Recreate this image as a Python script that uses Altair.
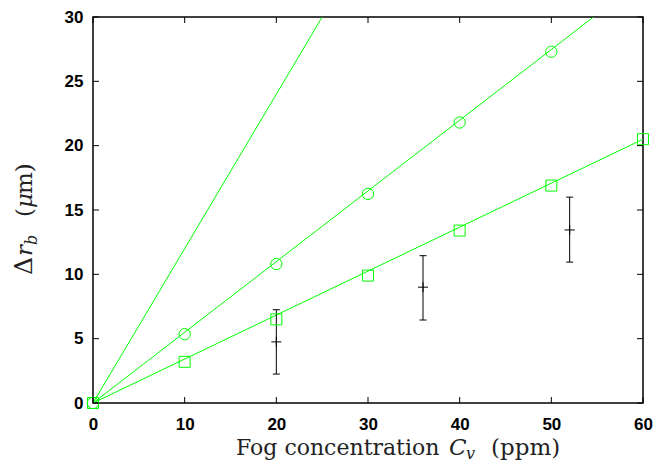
import altair as alt
import pandas as pd

# ---- data ----
x_ticks = [0, 10, 20, 30, 40, 50, 60]
y_ticks = [0, 5, 10, 15, 20, 25, 30]

circle_x = [0, 10, 20, 30, 40, 50]
circle_y = [0, 5.35, 10.8, 16.25, 21.8, 27.3]

square_x = [0, 10, 20, 30, 40, 50, 60]
square_y = [0, 3.2, 6.5, 9.9, 13.4, 16.9, 20.5]

steep_line_x = [0, 25]
steep_line_y = [0, 30]
circle_line_x = [0, 54.6]
circle_line_y = [0, 30]
square_line_x = [0, 60]
square_line_y = [0, 20.5]

err_x = [20, 36, 52]
err_y = [4.75, 9.0, 13.45]
err_lo = [2.25, 6.45, 10.95]
err_hi = [7.25, 11.45, 16.0]

# ---- styling ----
PAD_L, PAD_T, PAD_R, PAD_B = 85, 9, 10, 59
W, H = 550, 386
OX, OY = 8 + PAD_L, 8 + PAD_T   # page position of the plot origin
GREEN = "#00ff00"
TICK = 6
SERIF = "DejaVu Serif"
TCOL = "#222222"
TSIZE = 22

xs = alt.Scale(domain=[0, 60], nice=False, zero=False)
ys = alt.Scale(domain=[0, 30], nice=False, zero=False)

x_axis = alt.Axis(values=x_ticks, title=None, grid=False, domain=False, tickSize=0,
                  labelFont="Liberation Sans", labelFontWeight="bold", labelFontSize=17,
                  labelColor="black", labelPadding=13, labelFlush=False, labelOverlap=False)
y_axis = alt.Axis(values=y_ticks, title=None, grid=False, domain=False, tickSize=0,
                  labelFont="Liberation Sans", labelFontWeight="bold", labelFontSize=17,
                  labelColor="black", labelPadding=10, labelFlush=False, labelOverlap=False)

lines_df = pd.DataFrame({
    "x": steep_line_x + circle_line_x + square_line_x,
    "y": steep_line_y + circle_line_y + square_line_y,
    "s": ["steep"] * len(steep_line_x) + ["circ"] * len(circle_line_x) + ["sq"] * len(square_line_x),
})
circ_df = pd.DataFrame({"x": circle_x, "y": circle_y})
sq_df = pd.DataFrame({"x": square_x, "y": square_y})
err_df = pd.DataFrame({"x": err_x, "y": err_y, "lo": err_lo, "hi": err_hi})
xt_df = pd.DataFrame({"t": x_ticks})
yt_df = pd.DataFrame({"t": y_ticks})
one = pd.DataFrame({"a": [0]})

lines = alt.Chart(lines_df).mark_line(color=GREEN, strokeWidth=1, clip=True).encode(
    x=alt.X("x:Q", scale=xs, axis=x_axis),
    y=alt.Y("y:Q", scale=ys, axis=y_axis),
    detail="s:N",
)
circles = alt.Chart(circ_df).mark_point(shape="circle", filled=False, color=GREEN,
                                        size=128, strokeWidth=1, opacity=1).encode(
    x=alt.X("x:Q", scale=xs), y=alt.Y("y:Q", scale=ys))
squares = alt.Chart(sq_df).mark_point(shape="square", filled=False, color=GREEN,
                                      size=121, strokeWidth=1, opacity=1).encode(
    x=alt.X("x:Q", scale=xs), y=alt.Y("y:Q", scale=ys))

err_rule = alt.Chart(err_df).mark_rule(color="black", strokeWidth=1).encode(
    x=alt.X("x:Q", scale=xs), y=alt.Y("lo:Q", scale=ys), y2="hi:Q")
cap_lo = alt.Chart(err_df).mark_tick(color="black", orient="horizontal", size=7, thickness=1, opacity=1).encode(
    x=alt.X("x:Q", scale=xs), y=alt.Y("lo:Q", scale=ys))
cap_hi = alt.Chart(err_df).mark_tick(color="black", orient="horizontal", size=7, thickness=1, opacity=1).encode(
    x=alt.X("x:Q", scale=xs), y=alt.Y("hi:Q", scale=ys))
center = alt.Chart(err_df).mark_point(shape="M-1,0L1,0M0,-1L0,1", filled=False, color="black",
                                      size=100, strokeWidth=1, opacity=1).encode(
    x=alt.X("x:Q", scale=xs), y=alt.Y("y:Q", scale=ys))

# inward ticks on all four sides
tb = alt.Chart(xt_df).mark_rule(color="black", strokeWidth=1).encode(
    x=alt.X("t:Q", scale=xs), y=alt.value(H), y2=alt.value(H - TICK))
tt = alt.Chart(xt_df).mark_rule(color="black", strokeWidth=1).encode(
    x=alt.X("t:Q", scale=xs), y=alt.value(0), y2=alt.value(TICK))
tl = alt.Chart(yt_df).mark_rule(color="black", strokeWidth=1).encode(
    y=alt.Y("t:Q", scale=ys), x=alt.value(0), x2=alt.value(TICK))
tr = alt.Chart(yt_df).mark_rule(color="black", strokeWidth=1).encode(
    y=alt.Y("t:Q", scale=ys), x=alt.value(W), x2=alt.value(W - TICK))


def txt(s, page_x, page_y, size=TSIZE, style="normal", angle=0, dy=0):
    kw = dict(text=s, font=SERIF, fontSize=size, fontStyle=style, color=TCOL,
              align="left", baseline="alphabetic", dy=dy)
    if angle:
        kw["angle"] = angle
    return alt.Chart(one).mark_text(**kw).encode(
        x=alt.value(page_x - OX), y=alt.value(page_y - OY))


# x-axis title: Fog concentration C_v (ppm)   (positions in page pixels)
XB = 455
xt1 = txt("Fog concentration", 236, XB)
xt2 = txt("C", 449, XB, size=23, style="italic")
xt3 = txt("v", 466, XB, size=16, style="italic", dy=4)
xt4 = txt("(ppm)", 491, XB, size=23)

# y-axis title: Δr_b (μm), rotated
YB = 32
yt1 = txt("Δ", YB, 275, size=25, angle=270)
yt2 = txt("r", YB, 256, size=23, style="italic", angle=270)
yt3 = txt("b", YB, 245, size=16, style="italic", angle=270, dy=5)
yt4 = txt("(", YB, 217, size=23, angle=270)
yt5 = txt("μ", YB, 208, size=23, style="italic", angle=270)
yt6 = txt("m)", YB, 194, size=23, angle=270)

chart = alt.layer(
    lines, err_rule, cap_lo, cap_hi, center, circles, squares, tb, tt, tl, tr,
    xt1, xt2, xt3, xt4, yt1, yt2, yt3, yt4, yt5, yt6,
).properties(
    width=W, height=H,
    autosize=alt.AutoSizeParams(type="none"),
    padding={"left": PAD_L, "top": PAD_T, "right": PAD_R, "bottom": PAD_B},
).configure_view(stroke="black", strokeWidth=1.5)

chart.save("out.html", embed_options={"renderer": "svg", "actions": False})
